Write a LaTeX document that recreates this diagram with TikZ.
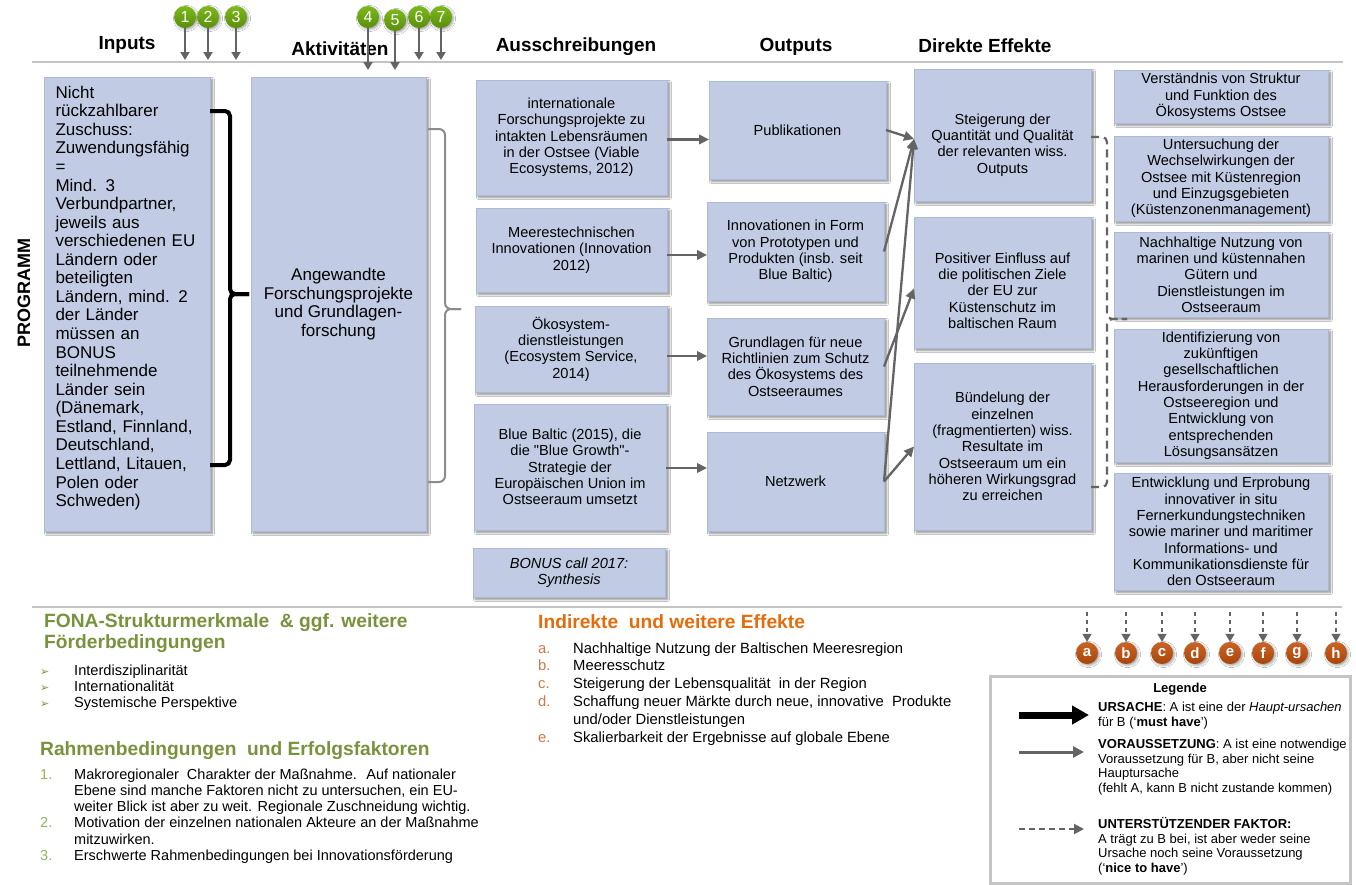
\documentclass[tikz,border=0pt]{standalone}
\usepackage{fontspec}
\setmainfont{Liberation Sans}[Ligatures=TeXOff]
\newfontfamily\symfont{DejaVu Sans}
\usetikzlibrary{arrows.meta,shadows.blur,calc}

\definecolor{boxfill}{RGB}{193,204,228}
\definecolor{boxline}{RGB}{172,186,214}
\definecolor{arrowgray}{RGB}{100,100,100}
\definecolor{rulegray}{RGB}{196,196,196}
\definecolor{fonagreen}{RGB}{119,147,60}
\definecolor{listgreen}{RGB}{150,180,90}
\definecolor{effectorange}{RGB}{228,108,10}
\definecolor{listorange}{RGB}{214,120,70}
\definecolor{numgreen}{RGB}{116,182,14}
\definecolor{letterorange}{RGB}{197,82,12}

\tikzset{
  box/.style={draw=boxline, line width=0.5pt, fill=boxfill, inner sep=0pt, outer sep=0pt,
    align=center, font=\fontsize{14.6}{16.3}\selectfont,
    blur shadow={shadow xshift=2.5pt, shadow yshift=-2.5pt, shadow blur steps=6,
      shadow blur radius=2pt, shadow opacity=45}},
  boxtext/.style={align=center, font=\fontsize{14.6}{16.3}\selectfont, inner sep=0pt},
  bigtext/.style={font=\fontsize{17}{18.56}\selectfont, inner sep=0pt},
  colhead/.style={font=\bfseries\fontsize{19}{22}\selectfont, inner sep=0pt},
  con/.style={draw=arrowgray, line width=2.3pt, -{Triangle[length=10pt,width=9.5pt]}},
  marker/.style={draw=arrowgray, line width=2pt, -{Triangle[length=8pt,width=9pt]}},
  supportline/.style={draw=arrowgray, line width=2.2pt, dash pattern=on 8pt off 5pt},
  supportarrow/.style={draw=arrowgray, line width=1.6pt, dash pattern=on 4pt off 4pt,
    -{Triangle[length=8pt,width=9pt]}},
  numball/.style={circle, minimum size=22pt, inner sep=0pt,
    top color=numgreen!95!white, bottom color=numgreen!78!black, text=white,
    font=\fontsize{16}{16}\selectfont,
    blur shadow={shadow xshift=1.5pt, shadow yshift=-1.5pt, shadow blur steps=4, shadow opacity=35}},
  letterball/.style={circle, minimum size=22pt, inner sep=0pt,
    top color=letterorange!90!white, bottom color=letterorange!85!black, text=white,
    font=\bfseries\fontsize{15}{15}\selectfont,
    blur shadow={shadow xshift=1.5pt, shadow yshift=-1.5pt, shadow blur steps=4, shadow opacity=35}},
  rule/.style={draw=rulegray, line width=2pt},
  legtext/.style={anchor=north west, inner sep=0pt, font=\fontsize{13}{14.5}\selectfont},
}

\begin{document}
\begin{tikzpicture}[x=1pt,y=-1pt]
\useasboundingbox (0,0) rectangle (1356,884);
\fill[white] (0,0) rectangle (1356,884);

% header rule and column titles
\draw[rule] (32,62) -- (1343,62);
\node[colhead] (hIn)  at (127,45) {Inputs};
\node[colhead] (hAkt) at (340,49) {Aktivitäten};
\node[colhead] (hAus) at (576,47) {Ausschreibungen};
\node[colhead] (hOut) at (796,47) {Outputs};
\node[colhead] (hDir) at (985,46) {Direkte Effekte};

\node[rotate=90, inner sep=0pt, font=\bfseries\fontsize{18}{20}\selectfont] (prog) at (24,293) {PROGRAMM};

% inputs and activities
\node[box, minimum width=166pt, minimum height=454pt,
  label={[bigtext, align=left, text width=143pt, yshift=6pt]center:{Nicht\\rückzahlbarer\\Zuschuss:\\Zuwendungsfähig\\=\\Mind. 3\\Verbundpartner,\\jeweils aus\\verschiedenen EU\\Ländern oder\\beteiligten\\Ländern, mind. 2\\der Länder\\müssen an\\BONUS\\teilnehmende\\Länder sein\\(Dänemark,\\Estland, Finnland,\\Deutschland,\\Lettland, Litauen,\\Polen oder\\Schweden)}}]
  (In) at (127,304) {};
\node[box, minimum width=175pt, minimum height=454pt, font=\fontsize{17}{18.4}\selectfont]
  (Akt) at (338.5,304) {Angewandte\\Forschungsprojekte\\und Grundlagen-\\forschung};

% braces
\draw[line width=4pt, rounded corners=5pt] (210,111) -- (230,111) -- (230,294) -- (249,294);
\draw[line width=4pt, rounded corners=5pt] (210,465) -- (230,465) -- (230,294) -- (249,294);
\draw[draw=gray!90, line width=2pt, rounded corners=6pt] (428,129) -- (445,129) -- (445,309) -- (461,309);
\draw[draw=gray!90, line width=2pt, rounded corners=6pt] (428,482) -- (445,482) -- (445,309) -- (461,309);

% calls
\node[box, minimum width=191pt, minimum height=115pt] (A1) at (571.5,137.5)
  {internationale\\Forschungsprojekte zu\\intakten Lebensräumen\\in der Ostsee (Viable\\Ecosystems, 2012)};
\node[box, minimum width=191pt, minimum height=84pt] (A2) at (571.5,250)
  {Meerestechnischen\\Innovationen (Innovation\\2012)};
\node[box, minimum width=192pt, minimum height=86pt] (A3) at (571,349)
  {Ökosystem-\\dienstleistungen\\(Ecosystem Service,\\2014)};
\node[box, minimum width=192pt, minimum height=126pt] (A4) at (570,467)
  {Blue Baltic (2015), die\\die "Blue Growth"-\\Strategie der\\Europäischen Union im\\Ostseeraum umsetzt};
\node[box, minimum width=192pt, minimum height=49pt, font=\itshape\fontsize{14.6}{16.3}\selectfont] (A5) at (569,572.5)
  {BONUS call 2017:\\Synthesis};

% outputs
\node[box, minimum width=177pt, minimum height=98pt] (O1) at (797.5,130) {Publikationen};
\node[box, minimum width=177pt, minimum height=99pt] (O2) at (795.5,251.5)
  {Innovationen in Form\\von Prototypen und\\Produkten (insb. seit\\Blue Baltic)};
\node[box, minimum width=177pt, minimum height=97pt] (O3) at (795.5,366.5)
  {Grundlagen für neue\\Richtlinien zum Schutz\\des Ökosystems des\\Ostseeraumes};
\node[box, minimum width=177pt, minimum height=99pt] (O4) at (795.5,481.5) {Netzwerk};

% direct effects
\node[box, minimum width=177pt, minimum height=132pt,
  label={[boxtext, yshift=-10pt]center:{Steigerung der\\Quantität und Qualität\\der relevanten wiss.\\Outputs}}]
  (D1) at (1002.5,135) {};
\node[box, minimum width=177pt, minimum height=131pt,
  label={[boxtext, yshift=-8pt]center:{Positiver Einfluss auf\\die politischen Ziele\\der EU zur\\Küstenschutz im\\baltischen Raum}}]
  (D2) at (1002.5,282.5) {};
\node[box, minimum width=177pt, minimum height=167pt] (D3) at (1002.5,446.5)
  {Bündelung der\\einzelnen\\(fragmentierten) wiss.\\Resultate im\\Ostseeraum um ein\\höheren Wirkungsgrad\\zu erreichen};

% longer-term fields
\node[box, minimum width=214pt, minimum height=53pt] (R1) at (1221,96.5)
  {Verständnis von Struktur\\und Funktion des\\Ökosystems Ostsee};
\node[box, minimum width=214pt, minimum height=85pt] (R2) at (1221,178.5)
  {Untersuchung der\\Wechselwirkungen der\\Ostsee mit Küstenregion\\und Einzugsgebieten\\(Küstenzonenmanagement)};
\node[box, minimum width=214pt, minimum height=85pt] (R3) at (1221,274.5)
  {Nachhaltige Nutzung von\\marinen und küstennahen\\Gütern und\\Dienstleistungen im\\Ostseeraum};
\node[box, minimum width=214pt, minimum height=133pt] (R4) at (1221,395.5)
  {Identifizierung von\\zukünftigen\\gesellschaftlichen\\Herausforderungen in der\\Ostseeregion und\\Entwicklung von\\entsprechenden\\Lösungsansätzen};
\node[box, minimum width=214pt, minimum height=117pt] (R5) at (1221,531.5)
  {Entwicklung und Erprobung\\innovativer in situ\\Fernerkundungstechniken\\sowie mariner und maritimer\\Informations- und\\Kommunikationsdienste für\\den Ostseeraum};

% calls -> outputs
\coordinate (a1o) at ([yshift=-2pt]A1.east);
\coordinate (a2o) at ([yshift=-5pt]A2.east);
\coordinate (a3o) at ([yshift=-7pt]A3.east);
\coordinate (a4o) at ([yshift=-1pt]A4.east);
\draw[con] (a1o) -- (a1o -| O1.west);
\draw[con] (a2o) -- (a2o -| O2.west);
\draw[con] (a3o) -- (a3o -| O3.west);
\draw[con] (a4o) -- (a4o -| O4.west);

% outputs -> direct effects
\coordinate (d1in) at ([yshift=-4pt]D1.west);
\coordinate (d2in) at ([yshift=-6pt]D2.west);
\draw[con] (O1.east) -- (d1in);
\draw[con] (O2.east) -- (d1in);
\draw[con] (O4.east) -- (d1in);
\draw[con] (O3.east) -- (d2in);
\draw[con] (O4.east) -- (D3.west);

% supporting link from direct effects to the fields
\coordinate (bkmid) at (1107,319);
\coordinate (bktip) at (1127,319);
\draw[supportline, rounded corners=5pt] ([yshift=-2pt]D1.east) -| (bkmid) -- (bktip);
\draw[supportline, rounded corners=5pt] ([yshift=-40.5pt]D3.east) -| (bkmid) -- (bktip);

% numbered markers above the columns
\foreach \n/\x/\y/\e in {1/185/17/60, 2/208/17/60, 3/236/17/60, 4/368/17/70, 5/395/20/70, 6/419/17/60, 7/441/17/60}{
  \node[numball] (num\n) at (\x,\y) {\n};
  \coordinate (numend\n) at (\x,\e);
  \draw[marker] (num\n.south) -- (numend\n);
}

% bottom rule
\draw[rule] (32,607) -- (1342,607);

% lettered markers
\foreach \l/\x in {a/1087, b/1126, c/1162, d/1195, e/1230, f/1263, g/1297, h/1336}{
  \coordinate (lt\l) at (\x,612);
  \node[letterball] (let\l) at (\x,653) {\l};
  \draw[supportarrow] (lt\l) -- (let\l.north);
}

% structural features
\node[anchor=north west, inner sep=0pt, text=fonagreen, font=\bfseries\fontsize{19.2}{21}\selectfont] (fona) at (44,612.7)
  {\begin{tabular}{@{}l@{}}FONA-Strukturmerkmale \ \& ggf. weitere\\Förderbedingungen\end{tabular}};
\node[anchor=north west, inner sep=0pt, font=\fontsize{14.6}{16}\selectfont] (fonalist) at (40,663.8)
  {\begin{tabular}{@{}l@{}l@{}}
   \makebox[34pt][l]{\textcolor{fonagreen}{\symfont\fontsize{11}{16}\selectfont ➢}} & Interdisziplinarität\\
   \makebox[34pt][l]{\textcolor{fonagreen}{\symfont\fontsize{11}{16}\selectfont ➢}} & Internationalität\\
   \makebox[34pt][l]{\textcolor{fonagreen}{\symfont\fontsize{11}{16}\selectfont ➢}} & Systemische Perspektive
  \end{tabular}};

% framework conditions
\node[anchor=base west, inner sep=0pt, text=fonagreen, font=\bfseries\fontsize{19.2}{21}\selectfont] (rahmen) at (40,755.5)
  {Rahmenbedingungen \ und Erfolgsfaktoren};
\node[anchor=north west, inner sep=0pt, font=\fontsize{14.5}{16.2}\selectfont] (rahmenlist) at (40,767.7)
  {\begin{tabular}{@{}l@{}l@{}}
   \makebox[34pt][l]{\textcolor{listgreen}{1.}} & Makroregionaler \ Charakter der Maßnahme. \ Auf nationaler\\
   & Ebene sind manche Faktoren nicht zu untersuchen, ein EU-\\
   & weiter Blick ist aber zu weit. Regionale Zuschneidung wichtig.\\
   \makebox[34pt][l]{\textcolor{listgreen}{2.}} & Motivation der einzelnen nationalen Akteure an der Maßnahme\\
   & mitzuwirken.\\
   \makebox[34pt][l]{\textcolor{listgreen}{3.}} & Erschwerte Rahmenbedingungen bei Innovationsförderung
  \end{tabular}};

% indirect effects
\node[anchor=base west, inner sep=0pt, text=effectorange, font=\bfseries\fontsize{19.2}{21}\selectfont] (indir) at (538,628)
  {Indirekte \ und weitere Effekte};
\node[anchor=north west, inner sep=0pt, font=\fontsize{14.8}{17.8}\selectfont] (indirlist) at (538,640.5)
  {\begin{tabular}{@{}l@{}l@{}}
   \makebox[35pt][l]{\textcolor{listorange}{a.}} & Nachhaltige Nutzung der Baltischen Meeresregion\\
   \makebox[35pt][l]{\textcolor{listorange}{b.}} & Meeresschutz\\
   \makebox[35pt][l]{\textcolor{listorange}{c.}} & Steigerung der Lebensqualität \ in der Region\\
   \makebox[35pt][l]{\textcolor{listorange}{d.}} & Schaffung neuer Märkte durch neue, innovative \ Produkte\\
   & und/oder Dienstleistungen\\
   \makebox[35pt][l]{\textcolor{listorange}{e.}} & Skalierbarkeit der Ergebnisse auf globale Ebene
  \end{tabular}};

% legend
\node[draw=rulegray, line width=3pt, fill=white, minimum width=360pt, minimum height=207pt, inner sep=0pt] (leg) at (1170,779.5) {};
\node[inner sep=0pt, font=\bfseries\fontsize{13}{15}\selectfont] (legtitle) at (1180,689) {Legende};
\coordinate (l1a) at (1019,715); \coordinate (l1b) at (1089,715);
\coordinate (l2a) at (1019,752); \coordinate (l2b) at (1084,752);
\coordinate (l3a) at (1019,829); \coordinate (l3b) at (1084,829);
\draw[line width=7pt, -{Triangle[length=17pt,width=18pt]}] (l1a) -- (l1b);
\draw[draw=arrowgray, line width=3pt, -{Triangle[length=11pt,width=11pt]}] (l2a) -- (l2b);
\draw[draw=arrowgray, line width=2pt, dash pattern=on 6pt off 4pt, -{Triangle[length=10pt,width=10pt]}] (l3a) -- (l3b);
\node[legtext] (leg1) at (1098,701.5)
  {\begin{tabular}{@{}l@{}}\textbf{URSACHE}: A ist eine der \textit{Haupt-ursachen}\\für B (‘\textbf{must have}’)\end{tabular}};
\node[legtext] (leg2) at (1098,738.5)
  {\begin{tabular}{@{}l@{}}\textbf{VORAUSSETZUNG}: A ist eine notwendige\\Voraussetzung für B, aber nicht seine\\Hauptursache\\(fehlt A, kann B nicht zustande kommen)\end{tabular}};
\node[legtext] (leg3) at (1098,817.5)
  {\begin{tabular}{@{}l@{}}\textbf{UNTERSTÜTZENDER FAKTOR:}\\A trägt zu B bei, ist aber weder seine\\Ursache noch seine Voraussetzung\\(‘\textbf{nice to have}’)\end{tabular}};

\end{tikzpicture}
\end{document}
